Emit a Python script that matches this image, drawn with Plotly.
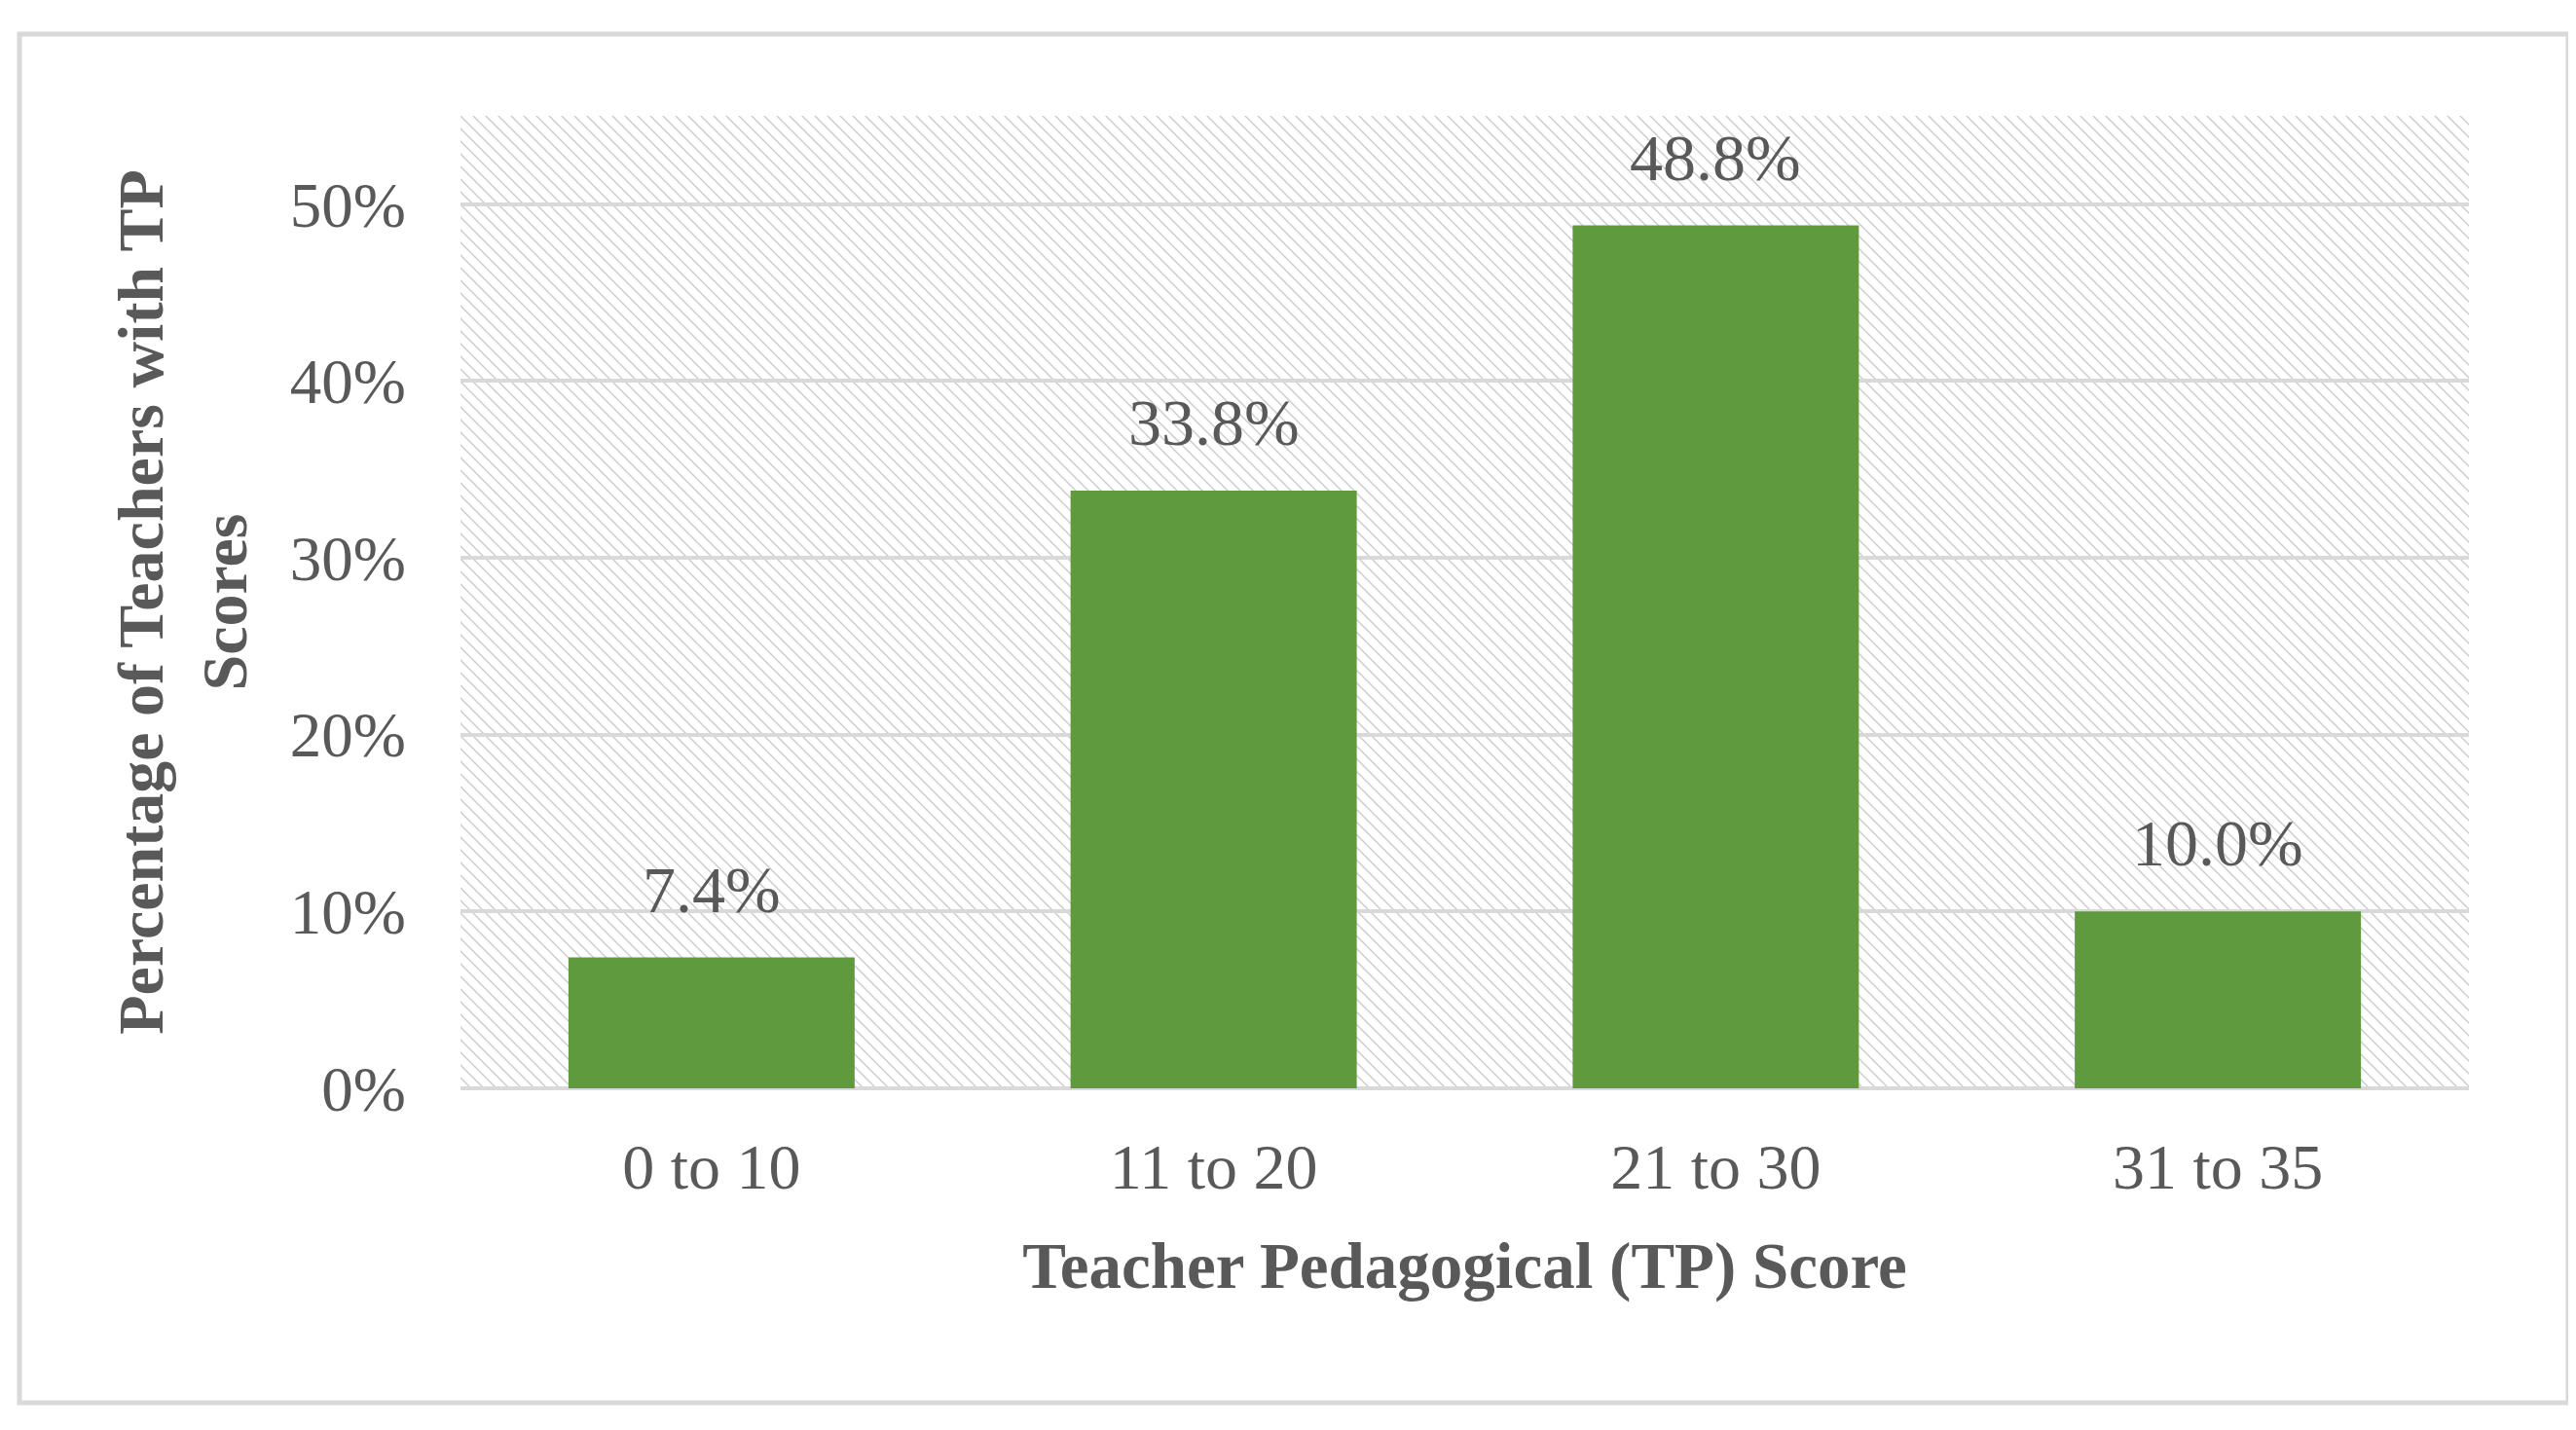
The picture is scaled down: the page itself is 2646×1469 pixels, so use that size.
import base64
import plotly.graph_objects as go

# dados
faixas = ["0 to 10", "11 to 20", "21 to 30", "31 to 35"]
percentuais = [7.4, 33.8, 48.8, 10.0]
rotulos = ["7.4%", "33.8%", "48.8%", "10.0%"]
ticks_y = [0, 10, 20, 30, 40, 50]
ticks_y_texto = ["0%", "10%", "20%", "30%", "40%", "50%"]

W, H = 2646, 1469
# area do grafico em pixels
esq, dir_, topo, base = 465, 2528, 111, 1110
largura = dir_ - esq
altura = base - topo

verde = "#5f9a3e"
cinza_texto = "#595959"
cinza_grade = "#d9d9d9"
fonte = "Liberation Serif"

# fundo hachurado (listras diagonais) como imagem svg
svg = (
    f'<svg xmlns="http://www.w3.org/2000/svg" width="{largura}" height="{altura}">'
    '<defs><pattern id="p" width="13" height="13" patternUnits="userSpaceOnUse">'
    '<path d="M-1,-1 L14,14 M-7,6 L7,20 M6,-7 L20,7" stroke="#cbcbcb" stroke-width="1.4"/>'
    '</pattern></defs><rect width="100%" height="100%" fill="url(#p)"/></svg>'
)
svg_uri = "data:image/svg+xml;base64," + base64.b64encode(svg.encode()).decode()

fig = go.Figure()
fig.add_trace(go.Bar(
    x=faixas,
    y=percentuais,
    marker_color=verde,
    marker_line_width=0,
    hoverinfo="x+y",
))

# rotulos de dados acima das barras
for f, v, r in zip(faixas, percentuais, rotulos):
    fig.add_annotation(
        x=f, y=v, text=r, showarrow=False,
        yanchor="middle", yshift=70,
        font=dict(family=fonte, size=68, color=cinza_texto),
    )


def px_x(p):
    return (p - esq) / largura


def px_y(p):
    return (base - p) / altura


# moldura externa
fig.add_shape(
    type="rect", xref="paper", yref="paper",
    x0=px_x(12), x1=px_x(2630), y0=px_y(1433), y1=px_y(27),
    line=dict(color=cinza_grade, width=5), fillcolor="rgba(0,0,0,0)",
    layer="below",
)

fig.add_layout_image(
    source=svg_uri, xref="paper", yref="paper",
    x=0, y=1, sizex=1, sizey=1, xanchor="left", yanchor="top",
    sizing="stretch", layer="below",
)

fig.update_layout(
    width=W, height=H,
    margin=dict(l=esq, r=W - dir_, t=topo, b=H - base),
    paper_bgcolor="white",
    plot_bgcolor="rgba(0,0,0,0)",
    bargap=0.43,
    showlegend=False,
    font=dict(family=fonte, color=cinza_texto),
)

fig.update_xaxes(
    showgrid=False,
    showline=False,
    ticks="",
    ticklabelstandoff=36,
    tickfont=dict(family=fonte, size=66, color=cinza_texto),
    title=dict(
        text="<b>Teacher Pedagogical (TP) Score</b>",
        font=dict(family=fonte, size=67, color=cinza_texto),
        standoff=42,
    ),
)

fig.update_yaxes(
    range=[0, 55],
    tickvals=ticks_y,
    ticktext=ticks_y_texto,
    showgrid=True,
    gridcolor=cinza_grade,
    gridwidth=4,
    zeroline=True,
    zerolinecolor=cinza_grade,
    zerolinewidth=4,
    showline=False,
    ticks="",
    ticklabelstandoff=55,
    tickfont=dict(family=fonte, size=65, color=cinza_texto),
    title=dict(
        text="<b>Percentage of Teachers with TP<br>Scores</b>",
        font=dict(family=fonte, size=66, color=cinza_texto),
        standoff=22,
    ),
)

fig.write_html("out.html")
